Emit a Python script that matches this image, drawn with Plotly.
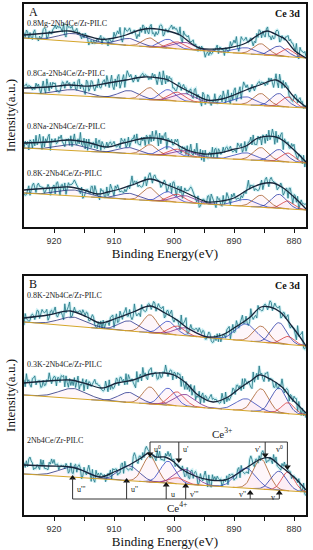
import numpy as np
import plotly.graph_objects as go

# ---------------- data ----------------
TICK_VALS = [920, 910, 900, 890, 880]
TICK_TEXT = ['920', '910', '900', '890', '880']
MINOR_TICKS = [915, 905, 895, 885]

# Ce 3d fitted component positions (eV), FWHM (eV)
COMP_E = [916.8, 907.5, 904.0, 901.0, 899.5, 898.2, 888.0, 885.5, 882.5, 881.0]
COMP_W = [5.5, 4.0, 2.8, 3.0, 3.0, 4.0, 4.0, 3.0, 3.0, 2.5]
COMP_COLORS = ['#26307a', '#2b3590', '#a8602c', '#3347c4', '#d63c3c',
               '#7d2f8f', '#3346b8', '#a8602c', '#2c3ca8', '#d63c3c']

# Panel A
MG_LABEL = '0.8Mg-2Nb4Ce/Zr-PILC'
MG_E = [925, 921, 917.5, 914.5, 912, 910, 908, 906, 904, 901, 899, 897, 895.5, 893, 891, 888, 886, 884.5, 882.5, 881.5, 880, 878]
MG_I = [192, 194, 196, 191, 187.5, 189, 192, 196.5, 198.5, 196, 192, 183, 178.5, 178, 179, 184, 192, 196, 191, 188, 177, 169]
MG_BASE = [189, 169]
MG_H = [8, 7, 9, 9, 7, 7, 6, 11, 10, 8]

CA_LABEL = '0.8Ca-2Nb4Ce/Zr-PILC'
CA_E = [925, 921, 917.5, 914, 911, 908, 905, 902.5, 901, 899, 897, 894.5, 892, 890, 888, 885.7, 883, 881.5, 880, 878]
CA_I = [139, 140, 142, 141, 144, 147, 150, 149, 147, 140, 134, 127, 128, 132, 137, 142, 147, 141, 130, 120]
CA_BASE = [134, 119]
CA_H = [6, 8, 12, 11, 9, 8, 8, 12, 13, 10]

NA_LABEL = '0.8Na-2Nb4Ce/Zr-PILC'
NA_E = [925, 921, 917.3, 914, 911.2, 908.5, 904.5, 902, 900, 897.8, 895, 892.5, 890.5, 888, 886, 883, 881.5, 880, 878]
NA_I = [84, 85, 87, 84, 80, 84, 89, 88, 84, 77, 73, 74, 77, 81, 89, 90, 85, 77, 65]
NA_BASE = [79, 64]
NA_H = [6, 6, 10, 9, 7, 6, 7, 13, 12, 9]

KA_LABEL = '0.8K-2Nb4Ce/Zr-PILC'
KA_E = [925, 920.5, 917.5, 915, 912.8, 911, 909, 906.5, 904, 901.5, 899, 896.5, 894.5, 892, 890, 887.5, 885.5, 883.5, 881.8, 880, 878]
KA_I = [37, 39, 40, 37, 33, 35, 38, 43, 48, 43, 37, 30, 25, 26, 29, 38, 43, 44, 39, 30, 18]
KA_BASE = [34, 17]
KA_H = [6, 6, 13, 10, 8, 7, 7, 12, 14, 8]

# Panel B
KB_LABEL = '0.8K-2Nb4Ce/Zr-PILC'
KB_E = [925, 921, 917.3, 914.5, 912.3, 909.5, 906.8, 904, 901.5, 899.5, 897.5, 894.5, 892, 890, 887.5, 885.5, 884, 882.3, 880.5, 879, 878]
KB_I = [197, 200, 204, 198, 192, 197, 203, 209, 202, 195, 186, 178, 180, 187, 197, 208, 208, 203, 190, 178, 169]
KB_BASE = [193, 169]
KB_H = [9, 10, 18, 13, 9, 8, 17, 16, 21, 8]

K3_LABEL = '0.3K-2Nb4Ce/Zr-PILC'
K3_E = [925, 921, 917.3, 914.5, 912, 909.5, 906.8, 904, 901.5, 900, 898, 896, 893.5, 891, 889, 887, 885.8, 884, 882, 880.5, 879, 878]
K3_I = [132, 134, 135, 131, 127, 132, 135, 141, 142, 140, 132, 120, 113, 118, 127, 135, 140, 136, 128, 117, 108, 102]
K3_BASE = [120, 100]
K3_H = [10, 10, 17, 17, 14, 12, 12, 23, 25, 11]

NB_LABEL = '2Nb4Ce/Zr-PILC'
NB_E = [925, 921, 917.3, 915.5, 912.3, 910, 907.8, 905.5, 904.2, 903, 901.5, 900, 899, 896.5, 894, 891.5, 889.5, 887.5, 885.5, 884, 882.5, 881, 879.5, 878]
NB_I = [50, 49, 48, 45, 38, 43, 49, 57, 62, 58, 58, 53, 47, 39, 35, 35, 41, 49, 56, 57, 50, 43, 35, 25]
NB_BASE = [41, 23]
NB_H = [10, 15, 26, 22, 6, 15, 20, 30, 19, 19]

# hand-typed residual pattern of the raw counts
RESID = [0.3, -0.8, 0.5, 1.2, -0.4, -1.1, 0.7, 0.1, -0.6, 0.9, -1.5, 0.4, 0.8, -0.2, -0.9, 1.4,
         -0.3, 0.6, -1.2, 0.2, 1.0, -0.7, 0.3, -0.5, 1.7, -1.0, 0.5, -0.1, 0.8, -1.3, 0.6, 0.2,
         -0.8, 1.1, -0.4, -1.6, 0.9, 0.0, -0.5, 1.3, -0.9, 0.4, 0.7, -1.1, 0.2, 1.5, -0.6, -0.2,
         0.9, -1.4, 0.3, 0.6, -0.7, 1.2, -0.3, -1.0, 0.8, 0.1, -1.8, 0.7, 0.4, -0.5, 1.0, -0.8,
         0.2, 1.6, -1.2, 0.5, -0.1, 0.9, -0.6, -1.3, 1.1, 0.3, -0.4, 0.8, -0.9, 1.9, -0.7, 0.0,
         0.6, -1.1, 0.4, 1.3, -0.5, -0.2, 0.7, -1.5, 1.0, 0.2, -0.8, 0.5, 1.2, -1.0, 0.3, -0.6, 0.9]

SPECTRA = [
    ('A', MG_LABEL, MG_E, MG_I, MG_BASE, MG_H, 204),
    ('A', CA_LABEL, CA_E, CA_I, CA_BASE, CA_H, 154),
    ('A', NA_LABEL, NA_E, NA_I, NA_BASE, NA_H, 101),
    ('A', KA_LABEL, KA_E, KA_I, KA_BASE, KA_H, 54),
    ('B', KB_LABEL, KB_E, KB_I, KB_BASE, KB_H, 220),
    ('B', K3_LABEL, K3_E, K3_I, K3_BASE, K3_H, 151),
    ('B', NB_LABEL, NB_E, NB_I, NB_BASE, NB_H, 75),
]

# Ce4+ / Ce3+ markers in panel B (energy, arrow tip intensity, label)
CE4_E = [916.9, 907.9, 901.3, 898.05, 887.3, 882.45]
CE4_TIP = [40, 37, 33, 32, 25, 25]
CE4_TXT = ["u'''", "u''", "u", "v'''", "v''", "v"]
CE3_E = [904.0, 899.2, 884.8, 881.1]
CE3_TIP = [58, 52, 57, 45]
CE3_TXT = ["u<sup>0</sup>", "u'", "v'", "v<sup>0</sup>"]

# ---------------- figure ----------------
SERIF = 'Liberation Serif, Times New Roman, serif'
SANS = 'Liberation Sans, Arial, sans-serif'

fig = go.Figure()
EF = np.round(np.arange(878.0, 925.0001, 0.2), 2)
resid = np.array(RESID)

for k, (panel, label, ev, iv, base, heights, ly) in enumerate(SPECTRA):
    xa = 'x' if panel == 'A' else 'x2'
    ya = 'y' if panel == 'A' else 'y2'
    order = np.argsort(ev)
    es = np.array(ev, dtype=float)[order]
    ins = np.array(iv, dtype=float)[order]
    env = np.interp(EF, es, ins)
    idx = (np.arange(len(EF)) * (3 + 2 * k) + 11 * k) % len(resid)
    raw = env + 4.8 * resid[idx]
    bl = np.interp(EF, [878, 925], [base[1], base[0]])

    for c, w, h, col in zip(COMP_E, COMP_W, heights, COMP_COLORS):
        m = np.abs(EF - c) <= 1.6 * w
        g = h * np.exp(-4 * np.log(2) * (EF[m] - c) ** 2 / w ** 2)
        fig.add_trace(go.Scatter(x=np.concatenate([EF[m], EF[m][::-1]]),
                                 y=np.concatenate([bl[m] + g, bl[m][::-1]]),
                                 fill='toself', fillcolor='rgba(245,185,215,0.12)',
                                 line=dict(width=0), mode='lines', hoverinfo='skip',
                                 xaxis=xa, yaxis=ya, showlegend=False))
    fig.add_trace(go.Scatter(x=EF, y=raw, mode='lines', line=dict(color='rgba(150,225,232,0.45)', width=3),
                             xaxis=xa, yaxis=ya, showlegend=False, hoverinfo='skip'))
    fig.add_trace(go.Scatter(x=EF, y=raw, mode='lines', line=dict(color='#2f7f8c', width=0.9),
                             xaxis=xa, yaxis=ya, showlegend=False))
    for c, w, h, col in zip(COMP_E, COMP_W, heights, COMP_COLORS):
        m = np.abs(EF - c) <= 1.6 * w
        g = h * np.exp(-4 * np.log(2) * (EF[m] - c) ** 2 / w ** 2)
        fig.add_trace(go.Scatter(x=EF[m], y=bl[m] + g, mode='lines', line=dict(color=col, width=0.8),
                                 xaxis=xa, yaxis=ya, showlegend=False, hoverinfo='skip'))
    fig.add_trace(go.Scatter(x=[925, 878], y=base, mode='lines', line=dict(color='#d4a62a', width=1),
                             xaxis=xa, yaxis=ya, showlegend=False))
    fig.add_trace(go.Scatter(x=ev, y=iv, mode='lines',
                             line=dict(color='#17253a', width=1.3, shape='spline', smoothing=1.0),
                             xaxis=xa, yaxis=ya, showlegend=False))
    fig.add_annotation(x=924.8, y=ly, xref=xa, yref=ya, text=label, showarrow=False,
                       xanchor='left', yanchor='middle', font=dict(family=SERIF, size=8, color='#222'))

for xa, ya, letter, yy in [('x', 'y', 'A', 215), ('x2', 'y2', 'B', 231)]:
    fig.add_annotation(x=923.5, y=yy, xref=xa, yref=ya, text=letter, showarrow=False,
                       font=dict(family=SERIF, size=12, color='#111'))
    fig.add_annotation(x=878.6, y=yy - 1, xref=xa, yref=ya, text='<b>Ce 3d</b>', showarrow=False,
                       xanchor='right', font=dict(family=SERIF, size=10, color='#111'))

LC = '#333'
# Ce4+ markers
fig.add_shape(type='line', xref='x2', yref='y2', x0=CE4_E[0], x1=CE4_E[-1], y0=16, y1=16,
              line=dict(color=LC, width=1))
for e, tip in zip(CE4_E, CE4_TIP):
    fig.add_shape(type='line', xref='x2', yref='y2', x0=e, x1=e, y0=16, y1=tip - 3,
                  line=dict(color=LC, width=1))
fig.add_trace(go.Scatter(x=CE4_E, y=[t - 3 for t in CE4_TIP], mode='markers', xaxis='x2', yaxis='y2',
                         marker=dict(symbol='triangle-up', size=6, color='#111'), showlegend=False,
                         hoverinfo='skip'))
for e, t, yy, anc in zip([916.5, 907.5, 900.8, 897.7, 887.7, 882.8], CE4_TXT, [26, 26, 21, 21, 21, 18],
                         ['left', 'left', 'left', 'left', 'right', 'right']):
    fig.add_annotation(x=e, y=yy, xref='x2', yref='y2', text=t, showarrow=False, xanchor=anc,
                       font=dict(family=SERIF, size=8, color='#222'))
fig.add_annotation(x=899.5, y=8, xref='x2', yref='y2', text='Ce<sup>4+</sup>', showarrow=False,
                   font=dict(family=SERIF, size=11, color='#222'))

# Ce3+ markers
fig.add_shape(type='line', xref='x2', yref='y2', x0=CE3_E[0], x1=CE3_E[-1], y0=73, y1=73,
              line=dict(color=LC, width=1))
for e, tip in zip(CE3_E, CE3_TIP):
    fig.add_shape(type='line', xref='x2', yref='y2', x0=e, x1=e, y0=73, y1=tip + 3,
                  line=dict(color=LC, width=1))
fig.add_trace(go.Scatter(x=CE3_E, y=[t + 3 for t in CE3_TIP], mode='markers', xaxis='x2', yaxis='y2',
                         marker=dict(symbol='triangle-down', size=6, color='#111'), showlegend=False,
                         hoverinfo='skip'))
for e, t, anc in zip([903.6, 898.8, 885.2, 881.5], CE3_TXT, ['left', 'left', 'right', 'right']):
    fig.add_annotation(x=e, y=66, xref='x2', yref='y2', text=t, showarrow=False, xanchor=anc,
                       font=dict(family=SERIF, size=8, color='#222'))
fig.add_annotation(x=892, y=82, xref='x2', yref='y2', text='Ce<sup>3+</sup>', showarrow=False,
                   font=dict(family=SERIF, size=11, color='#222'))

H_PLOT = 550 - 4 - 35
dA0 = (515 - 227) / H_PLOT
dB1 = (515 - 276) / H_PLOT

xcommon = dict(range=[925, 878], tickmode='array', tickvals=TICK_VALS, ticktext=TICK_TEXT,
               ticks='outside', ticklen=4, tickwidth=1, tickcolor='#111',
               minor=dict(tickmode='array', tickvals=MINOR_TICKS, ticks='outside', ticklen=4,
                          tickwidth=1, tickcolor='#111', showgrid=False),
               showline=True, mirror=True, linecolor='#111', linewidth=1.5,
               showgrid=False, zeroline=False,
               tickfont=dict(family=SANS, size=9, color='#333'),
               title=dict(text='Binding Energy(eV)', font=dict(family=SERIF, size=13, color='#111'), standoff=3))
ycommon = dict(showticklabels=False, ticks='', showline=True, mirror=True, linecolor='#111', linewidth=1.5,
               showgrid=False, zeroline=False,
               title=dict(text='Intensity(a.u.)', font=dict(family=SERIF, size=13, color='#111'), standoff=4))

fig.update_layout(
    width=313, height=550,
    margin=dict(l=24, r=7, t=4, b=35, autoexpand=False),
    paper_bgcolor='white', plot_bgcolor='white',
    showlegend=False,
    xaxis=dict(domain=[0, 1], anchor='y', **xcommon),
    yaxis=dict(domain=[dA0, 1], anchor='x', range=[0, 223], **ycommon),
    xaxis2=dict(domain=[0, 1], anchor='y2', **xcommon),
    yaxis2=dict(domain=[0, dB1], anchor='x2', range=[0, 239], **ycommon),
)

fig.write_html('out.html', config={'displayModeBar': False},
               post_script="document.body.style.margin='0';document.body.style.overflow='hidden';")
